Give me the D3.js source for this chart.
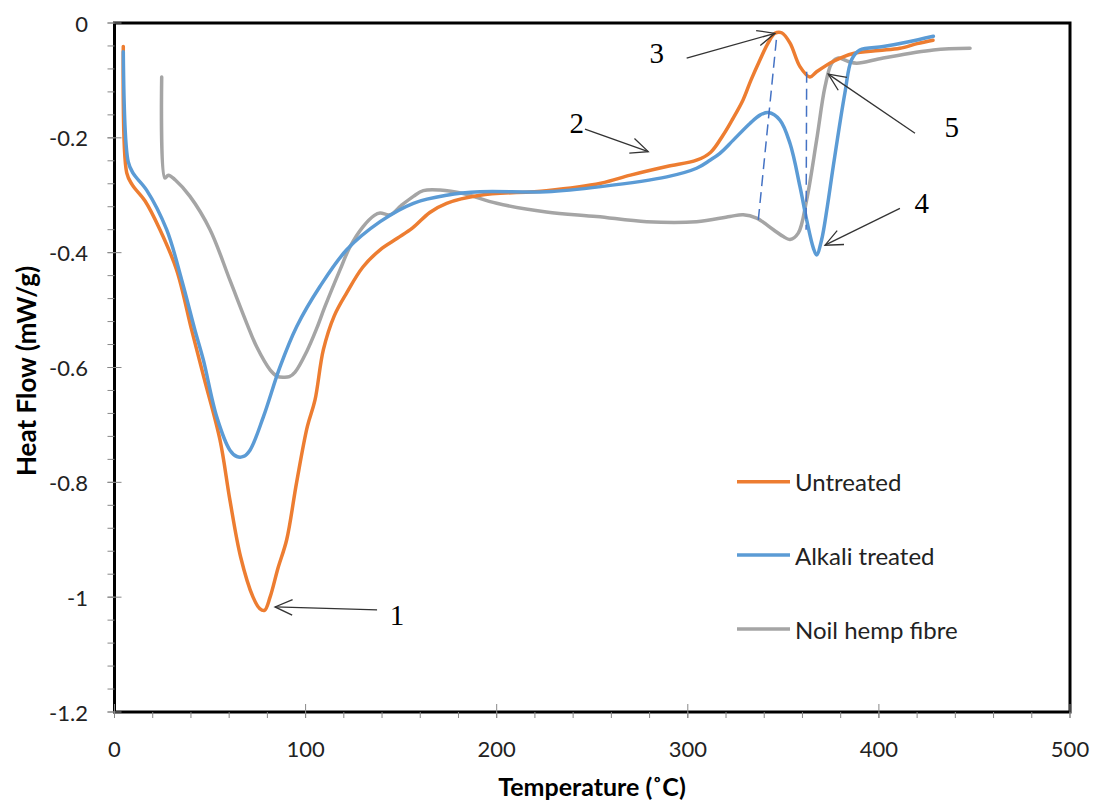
<!DOCTYPE html>
<html>
<head>
<meta charset="utf-8">
<script src="https://cdn.jsdelivr.net/npm/d3@7"></script>
<style>
  html, body { margin: 0; padding: 0; background: #fff; }
  svg { display: block; }
</style>
</head>
<body>
<svg id="chart" width="1095" height="800"></svg>
<script>
// DSC heat-flow curves (temperature °C, heat flow mW/g)
const untreated = [
  [4.6,-0.041],[6.4,-0.261],[9.3,-0.282],[16,-0.31],[23.8,-0.36],[32.5,-0.43],[40.4,-0.535],
  [47,-0.62],[55.2,-0.726],[60.4,-0.831],[66,-0.93],[72.5,-1.0],[76,-1.02],[78.5,-1.023],
  [81.4,-1.0],[85.5,-0.95],[90.1,-0.90],[95.3,-0.80],[100.9,-0.703],[104.9,-0.657],[109.3,-0.569],
  [115,-0.51],[121.5,-0.47],[130,-0.425],[139,-0.395],[148,-0.375],[156,-0.357],[165,-0.33],
  [173.8,-0.314],[191.3,-0.30],[226,-0.292],[254.5,-0.279],[270,-0.265],[289,-0.25],[304.6,-0.239],
  [312,-0.225],[318.5,-0.195],[323,-0.17],[328.9,-0.134],[333,-0.100],[337.8,-0.064],[342,-0.035],
  [345.6,-0.018],[349.1,-0.017],[353.5,-0.035],[358.7,-0.076],[363.9,-0.094],[367.4,-0.085],
  [376,-0.067],[386.6,-0.053],[400,-0.048],[411,-0.044],[420,-0.036],[428.3,-0.030]
];
const alkaliTreated = [
  [4.6,-0.050],[7.2,-0.242],[9.8,-0.262],[16.8,-0.291],[27.3,-0.36],[35.2,-0.448],[42.1,-0.535],
  [46.5,-0.587],[53.5,-0.686],[60.4,-0.744],[64,-0.755],[67.5,-0.755],[70.9,-0.744],[77.9,-0.686],
  [86.6,-0.599],[95.3,-0.529],[107.5,-0.459],[121.5,-0.395],[139,-0.346],[156.4,-0.314],
  [173.8,-0.30],[191.3,-0.294],[226,-0.294],[254.5,-0.285],[289,-0.268],[304.6,-0.253],
  [311.6,-0.239],[316.8,-0.227],[323.8,-0.204],[332.5,-0.175],[338,-0.16],[342.1,-0.156],
  [348.2,-0.169],[353.5,-0.21],[358.7,-0.285],[362.2,-0.343],[365.7,-0.392],[367.4,-0.404],
  [370,-0.378],[373,-0.32],[376.1,-0.25],[382.2,-0.122],[385.7,-0.064],[390,-0.047],
  [402.3,-0.041],[415,-0.033],[428.5,-0.023]
];
const noilHemp = [
  [24.7,-0.094],[26.4,-0.27],[28.2,-0.265],[31.7,-0.273],[39.5,-0.302],[50,-0.36],[60.4,-0.448],
  [69.2,-0.523],[74.4,-0.564],[81.4,-0.604],[85,-0.615],[88.3,-0.617],[91.5,-0.616],[94.5,-0.608],
  [100.6,-0.572],[105.8,-0.532],[110,-0.495],[118,-0.43],[123.2,-0.39],[130,-0.355],[136,-0.335],
  [139,-0.331],[144.2,-0.334],[150,-0.318],[156.4,-0.302],[161.6,-0.292],[170.3,-0.291],
  [182.5,-0.297],[200,-0.314],[226,-0.329],[252.3,-0.337],[278.5,-0.346],[304.6,-0.346],
  [322,-0.337],[329,-0.334],[336,-0.34],[344.8,-0.36],[350,-0.372],[353.5,-0.377],[357.8,-0.366],
  [362.2,-0.308],[367.4,-0.204],[371.8,-0.111],[375.3,-0.07],[378.8,-0.061],[384,-0.067],
  [388.4,-0.07],[402.3,-0.061],[428.5,-0.047],[447.7,-0.044]
];

const seriesNames = ["Untreated", "Alkali treated", "Noil hemp fibre"];
const seriesColors = ["#ED7D31", "#5B9BD5", "#A5A5A5"];

const xTicks = [0, 100, 200, 300, 400, 500];
const yTicks = [0, -0.2, -0.4, -0.6, -0.8, -1, -1.2];

// numbered callouts: label, arrow tail, arrow tip (data units)
const callouts = [
  { label: "1", at: [147.8, -1.031], from: [137.4, -1.022], to: [84.0, -1.017] },
  { label: "2", at: [241.9, -0.175], from: [246.2, -0.185], to: [279.3, -0.224] },
  { label: "3", at: [283.7, -0.053], from: [299.4, -0.061], to: [345.6, -0.018] },
  { label: "4", at: [422.4, -0.314], from: [411.0, -0.323], to: [371.8, -0.387] },
  { label: "5", at: [438.1, -0.181], from: [418.9, -0.192], to: [373.5, -0.089] }
];
// dashed guide lines through the peaks
const guides = [
  [[336.9, -0.343], [346.5, -0.024]],
  [[362.2, -0.085], [361.9, -0.36]]
];

const svg = d3.select("#chart");
const plot = { left: 114.5, top: 23, right: 1070, bottom: 712 };

const x = d3.scaleLinear().domain([0, 500]).range([plot.left, plot.right]);
const y = d3.scaleLinear().domain([-1.2, 0]).range([plot.bottom, plot.top]);

const tickFont = "Lato, 'Open Sans', sans-serif";

// frame
svg.append("rect")
  .attr("x", plot.left).attr("y", plot.top)
  .attr("width", plot.right - plot.left).attr("height", plot.bottom - plot.top)
  .attr("fill", "none").attr("stroke", "#000").attr("stroke-width", 3);

// y axis ticks
const yMinor = d3.range(0, 31).map(i => -i * 0.04);
svg.append("g").selectAll("line").data(yMinor).join("line")
  .attr("x1", plot.left - 7).attr("x2", plot.left)
  .attr("y1", d => y(d)).attr("y2", d => y(d))
  .attr("stroke", "#888").attr("stroke-width", 1);
svg.append("g").selectAll("line").data(yTicks).join("line")
  .attr("x1", plot.left - 7).attr("x2", plot.left + 7)
  .attr("y1", d => y(d)).attr("y2", d => y(d))
  .attr("stroke", "#888").attr("stroke-width", 1);
svg.append("g").selectAll("text").data(yTicks).join("text")
  .attr("x", 88).attr("y", d => y(d))
  .attr("text-anchor", "end").attr("dominant-baseline", "central")
  .attr("font-family", tickFont).attr("font-size", 22).attr("fill", "#222")
  .text(d => String(d));

// x axis ticks
const xMinor = d3.range(0, 26).map(i => i * 20);
svg.append("g").selectAll("line").data(xMinor).join("line")
  .attr("x1", d => x(d)).attr("x2", d => x(d))
  .attr("y1", plot.bottom).attr("y2", plot.bottom + 6)
  .attr("stroke", "#888").attr("stroke-width", 1);
svg.append("g").selectAll("line").data(xTicks).join("line")
  .attr("x1", d => x(d)).attr("x2", d => x(d))
  .attr("y1", plot.bottom - 8).attr("y2", plot.bottom + 6)
  .attr("stroke", "#888").attr("stroke-width", 1);
svg.append("g").selectAll("text").data(xTicks).join("text")
  .attr("x", d => x(d)).attr("y", 748)
  .attr("text-anchor", "middle").attr("dominant-baseline", "central")
  .attr("font-family", tickFont).attr("font-size", 22).attr("fill", "#222")
  .text(d => d);

// axis titles
svg.append("text")
  .attr("x", 592).attr("y", 786)
  .attr("text-anchor", "middle").attr("dominant-baseline", "central")
  .attr("font-family", tickFont).attr("font-size", 25).attr("font-weight", "bold")
  .text("Temperature (˚C)");
svg.append("text")
  .attr("transform", "translate(26,371) rotate(-90)")
  .attr("text-anchor", "middle").attr("dominant-baseline", "central")
  .attr("font-family", tickFont).attr("font-size", 26).attr("font-weight", "bold")
  .text("Heat Flow (mW/g)");

// curves
const line = d3.line()
  .x(d => x(d[0])).y(d => y(d[1]))
  .curve(d3.curveCatmullRom.alpha(0.5));
const allSeries = [untreated, alkaliTreated, noilHemp];
// drawn back-to-front: gray, orange, blue
[2, 0, 1].forEach(i => {
  svg.append("path")
    .datum(allSeries[i])
    .attr("d", line)
    .attr("fill", "none")
    .attr("stroke", seriesColors[i])
    .attr("stroke-width", 3.5)
    .attr("stroke-linejoin", "round")
    .attr("stroke-linecap", "round");
});

// dashed guides
svg.append("g").selectAll("line").data(guides).join("line")
  .attr("x1", d => x(d[0][0])).attr("y1", d => y(d[0][1]))
  .attr("x2", d => x(d[1][0])).attr("y2", d => y(d[1][1]))
  .attr("stroke", "#4472C4").attr("stroke-width", 1.5)
  .attr("stroke-dasharray", "11,6");

// callout arrows with open heads
const cg = svg.append("g");
callouts.forEach(c => {
  const x1 = x(c.from[0]), y1 = y(c.from[1]);
  const x2 = x(c.to[0]), y2 = y(c.to[1]);
  cg.append("line")
    .attr("x1", x1).attr("y1", y1).attr("x2", x2).attr("y2", y2)
    .attr("stroke", "#333").attr("stroke-width", 1.3);
  const ang = Math.atan2(y1 - y2, x1 - x2);
  const len = 19, spread = 0.42;
  const p1 = [x2 + len * Math.cos(ang + spread), y2 + len * Math.sin(ang + spread)];
  const p2 = [x2 + len * Math.cos(ang - spread), y2 + len * Math.sin(ang - spread)];
  cg.append("path")
    .attr("d", `M${p1[0]},${p1[1]} L${x2},${y2} L${p2[0]},${p2[1]}`)
    .attr("fill", "none").attr("stroke", "#333").attr("stroke-width", 1.3);
  cg.append("text")
    .attr("x", x(c.at[0])).attr("y", y(c.at[1]))
    .attr("text-anchor", "middle").attr("dominant-baseline", "central")
    .attr("font-family", "'Liberation Serif', 'Times New Roman', serif")
    .attr("font-size", 29).attr("fill", "#000")
    .text(c.label);
});

// legend
const legend = svg.append("g");
const legendY = [481.7, 555, 629];
seriesNames.forEach((name, i) => {
  legend.append("line")
    .attr("x1", 737).attr("x2", 790)
    .attr("y1", legendY[i]).attr("y2", legendY[i])
    .attr("stroke", seriesColors[i]).attr("stroke-width", 3.5);
  legend.append("text")
    .attr("x", 795).attr("y", legendY[i])
    .attr("dominant-baseline", "central")
    .attr("font-family", tickFont).attr("font-size", 24).attr("fill", "#222")
    .text(name);
});
</script>
</body>
</html>
